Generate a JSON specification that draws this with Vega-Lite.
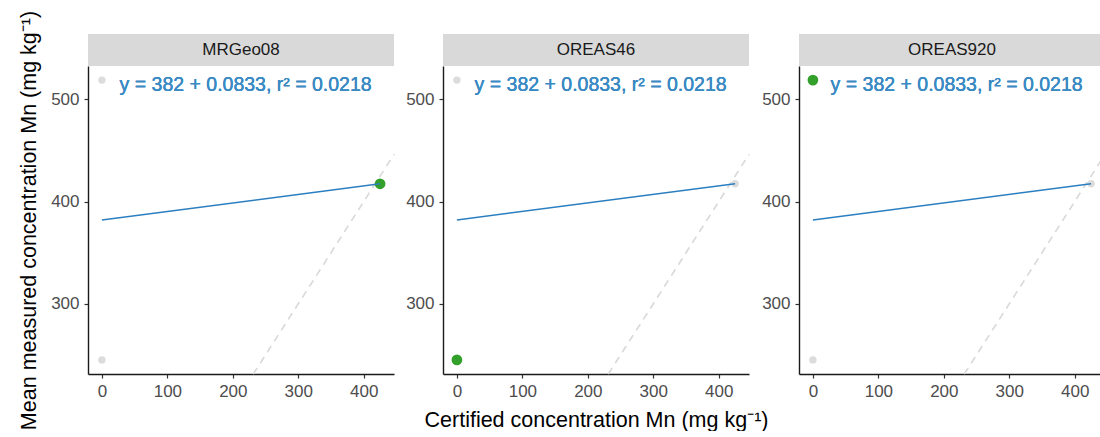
{
  "$schema": "https://vega.github.io/schema/vega-lite/v6.json",
  "padding": {"left": 18, "top": 10, "right": 0, "bottom": 0},
  "background": "white",
  "datasets": {
    "pts": [
      {"material": "MRGeo08", "certified": 425, "measured": 417.4},
      {"material": "OREAS46", "certified": 0, "measured": 245.1},
      {"material": "OREAS920", "certified": 0, "measured": 518.9}
    ]
  },
  "config": {
    "view": {"stroke": null},
    "font": "Liberation Sans",
    "axis": {
      "grid": false,
      "domainColor": "#1a1a1a",
      "domainWidth": 1.4,
      "tickColor": "#333333",
      "tickWidth": 1.2,
      "tickSize": 4,
      "labelColor": "#4d4d4d",
      "labelFont": "Liberation Sans",
      "labelFontSize": 17,
      "labelPadding": 5,
      "titleFont": "Liberation Sans",
      "titleFontSize": 21.5,
      "titleFontWeight": "normal",
      "titleColor": "#000000"
    }
  },
  "spacing": -7,
  "hconcat": [
    {
      "spacing": 10,
      "hconcat": [
        {
          "spacing": 0,
          "bounds": "flush",
          "vconcat": [
            {
              "width": 306, "height": 32,
              "data": {"values": [{"label": "MRGeo08"}]},
              "layer": [
                {"mark": {"type": "rect", "color": "#d9d9d9"}, "encoding": {}},
                {"mark": {"type": "text", "fontSize": 17, "fontWeight": "normal", "color": "#1a1a1a", "font": "Liberation Sans"}, "encoding": {"text": {"field": "label"}}}
              ]
            },
            {
              "width": 306, "height": 308,
              "data": {"name": "pts"},
              "layer": [
                {
                  "mark": {"type": "rule", "color": "#dcdcdc", "strokeDash": [7, 6], "strokeWidth": 1.3},
                  "encoding": {
                    "x": {"datum": 231.3, "type": "quantitative", "scale": {"domain": [-21.25, 446.25], "nice": false, "zero": false}, "axis": {"values": [0, 100, 200, 300, 400], "title": null}},
                    "y": {"datum": 231.3, "type": "quantitative", "scale": {"domain": [231.3, 532.7], "nice": false, "zero": false}, "axis": {"values": [300, 400, 500], "title": "Mean measured concentration Mn (mg kg⁻¹)", "titlePadding": 10}},
                    "x2": {"datum": 446.25},
                    "y2": {"datum": 446.25}
                  }
                },
                {
                  "mark": {"type": "point", "filled": true, "opacity": 1},
                  "encoding": {
                    "x": {"field": "certified", "type": "quantitative"},
                    "y": {"field": "measured", "type": "quantitative"},
                    "color": {"condition": {"test": "datum.material === 'MRGeo08'", "value": "#33a02c"}, "value": "#dcdcdc"},
                    "size": {"condition": {"test": "datum.material === 'MRGeo08'", "value": 115}, "value": 55}
                  }
                },
                {
                  "transform": [{"regression": "measured", "on": "certified"}],
                  "mark": {"type": "line", "color": "#2b7fc0", "strokeWidth": 1.5},
                  "encoding": {
                    "x": {"field": "certified", "type": "quantitative"},
                    "y": {"field": "measured", "type": "quantitative"}
                  }
                },
                {
                  "mark": {"type": "text", "align": "left", "baseline": "middle", "fontSize": 19.5, "fontWeight": "normal", "color": "#3a8ac4", "font": "Liberation Sans"},
                  "encoding": {
                    "x": {"datum": 27},
                    "y": {"datum": 514},
                    "text": {"value": "y = 382 + 0.0833, r² = 0.0218"}
                  }
                }
              ]
            }
          ]
        },
        {
          "spacing": 0,
          "bounds": "flush",
          "vconcat": [
            {
              "width": 306, "height": 32,
              "data": {"values": [{"label": "OREAS46"}]},
              "layer": [
                {"mark": {"type": "rect", "color": "#d9d9d9"}, "encoding": {}},
                {"mark": {"type": "text", "fontSize": 17, "fontWeight": "normal", "color": "#1a1a1a", "font": "Liberation Sans"}, "encoding": {"text": {"field": "label"}}}
              ]
            },
            {
              "width": 306, "height": 308,
              "data": {"name": "pts"},
              "layer": [
                {
                  "mark": {"type": "rule", "color": "#dcdcdc", "strokeDash": [7, 6], "strokeWidth": 1.3},
                  "encoding": {
                    "x": {"datum": 231.3, "type": "quantitative", "scale": {"domain": [-21.25, 446.25], "nice": false, "zero": false}, "axis": {"values": [0, 100, 200, 300, 400], "title": "Certified concentration Mn (mg kg⁻¹)", "titlePadding": 10}},
                    "y": {"datum": 231.3, "type": "quantitative", "scale": {"domain": [231.3, 532.7], "nice": false, "zero": false}, "axis": {"values": [300, 400, 500], "title": null}},
                    "x2": {"datum": 446.25},
                    "y2": {"datum": 446.25}
                  }
                },
                {
                  "mark": {"type": "point", "filled": true, "opacity": 1},
                  "encoding": {
                    "x": {"field": "certified", "type": "quantitative"},
                    "y": {"field": "measured", "type": "quantitative"},
                    "color": {"condition": {"test": "datum.material === 'OREAS46'", "value": "#33a02c"}, "value": "#dcdcdc"},
                    "size": {"condition": {"test": "datum.material === 'OREAS46'", "value": 115}, "value": 55}
                  }
                },
                {
                  "transform": [{"regression": "measured", "on": "certified"}],
                  "mark": {"type": "line", "color": "#2b7fc0", "strokeWidth": 1.5},
                  "encoding": {
                    "x": {"field": "certified", "type": "quantitative"},
                    "y": {"field": "measured", "type": "quantitative"}
                  }
                },
                {
                  "mark": {"type": "text", "align": "left", "baseline": "middle", "fontSize": 19.5, "fontWeight": "normal", "color": "#3a8ac4", "font": "Liberation Sans"},
                  "encoding": {
                    "x": {"datum": 27},
                    "y": {"datum": 514},
                    "text": {"value": "y = 382 + 0.0833, r² = 0.0218"}
                  }
                }
              ]
            }
          ]
        }
      ]
    },
    {
      "spacing": 0,
      "bounds": "flush",
      "vconcat": [
        {
          "width": 306, "height": 32,
          "data": {"values": [{"label": "OREAS920"}]},
          "layer": [
            {"mark": {"type": "rect", "color": "#d9d9d9"}, "encoding": {}},
            {"mark": {"type": "text", "fontSize": 17, "fontWeight": "normal", "color": "#1a1a1a", "font": "Liberation Sans"}, "encoding": {"text": {"field": "label"}}}
          ]
        },
        {
          "width": 306, "height": 308,
          "data": {"name": "pts"},
          "layer": [
            {
              "mark": {"type": "rule", "color": "#dcdcdc", "strokeDash": [7, 6], "strokeWidth": 1.3},
              "encoding": {
                "x": {"datum": 231.3, "type": "quantitative", "scale": {"domain": [-21.25, 446.25], "nice": false, "zero": false}, "axis": {"values": [0, 100, 200, 300, 400], "title": null}},
                "y": {"datum": 231.3, "type": "quantitative", "scale": {"domain": [231.3, 532.7], "nice": false, "zero": false}, "axis": {"values": [300, 400, 500], "title": null}},
                "x2": {"datum": 446.25},
                "y2": {"datum": 446.25}
              }
            },
            {
              "mark": {"type": "point", "filled": true, "opacity": 1},
              "encoding": {
                "x": {"field": "certified", "type": "quantitative"},
                "y": {"field": "measured", "type": "quantitative"},
                "color": {"condition": {"test": "datum.material === 'OREAS920'", "value": "#33a02c"}, "value": "#dcdcdc"},
                "size": {"condition": {"test": "datum.material === 'OREAS920'", "value": 115}, "value": 55}
              }
            },
            {
              "transform": [{"regression": "measured", "on": "certified"}],
              "mark": {"type": "line", "color": "#2b7fc0", "strokeWidth": 1.5},
              "encoding": {
                "x": {"field": "certified", "type": "quantitative"},
                "y": {"field": "measured", "type": "quantitative"}
              }
            },
            {
              "mark": {"type": "text", "align": "left", "baseline": "middle", "fontSize": 19.5, "fontWeight": "normal", "color": "#3a8ac4", "font": "Liberation Sans"},
              "encoding": {
                "x": {"datum": 27},
                "y": {"datum": 514},
                "text": {"value": "y = 382 + 0.0833, r² = 0.0218"}
              }
            }
          ]
        }
      ]
    }
  ]
}
